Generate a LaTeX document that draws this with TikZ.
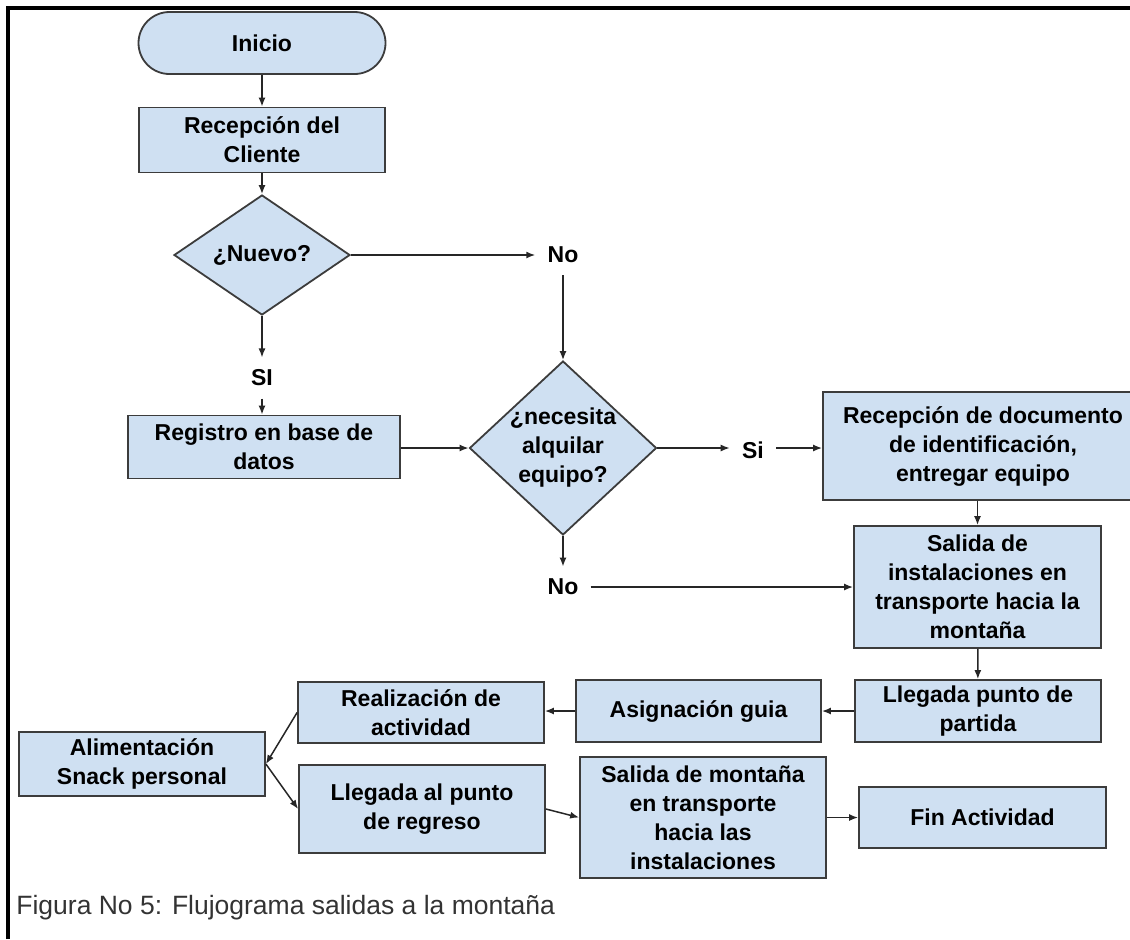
\documentclass[tikz,border=0pt]{standalone}
\usepackage{fontspec}
\setmainfont{Liberation Sans}
\usetikzlibrary{shapes.geometric,arrows.meta}
\definecolor{boxblue}{HTML}{CFE0F2}
\definecolor{boxline}{HTML}{3C3C3C}
\definecolor{captgray}{HTML}{333333}

\begin{document}
\begin{tikzpicture}[x=0.5pt,y=-0.5pt,font=\fontsize{11.5}{14.5}\selectfont\bfseries,
  box/.style={draw=boxline,line width=0.9pt,fill=boxblue,align=center,inner sep=0pt},
  decision/.style={box,shape=diamond},
  answer/.style={inner sep=6pt},
  flow/.style={-{Latex[length=4.5pt,width=3.5pt]},line width=0.75pt,black!85}]

\useasboundingbox (0,0) rectangle (1130,939);
\clip (0,0) rectangle (1130,939);

\draw[line width=1.6pt] (8,939) -- (8,8) -- (1130,8);

\node[box,rounded corners=15.5pt,minimum width=123.5pt,minimum height=31pt] (inicio) at (262,43) {Inicio};
\node[box,minimum width=123pt,minimum height=32.5pt] (recep) at (262,140) {Recepción del\\Cliente};
\node[decision,aspect=1.47,minimum width=88pt,minimum height=60pt] (nuevo) at (262,255) {¿Nuevo?};
\node[answer] (no1) at (563,255) {No};
\node[answer] (si1) at (262,378) {SI};
\node[box,minimum width=136pt,minimum height=31.5pt] (registro) at (264,447) {Registro en base de\\datos};
\node[decision,aspect=1.07,inner sep=-4pt,minimum width=93.5pt,minimum height=87pt] (necesita) at (563,448) {¿necesita\\alquilar\\equipo?};
\node[answer] (si2) at (753,450) {Si};
\node[box,minimum width=160pt,minimum height=54pt] (documento) at (983,446) {Recepción de documento\\de identificación,\\entregar equipo};
\node[box,minimum width=123.5pt,minimum height=61pt] (salida1) at (977.5,587) {Salida de\\instalaciones en\\transporte hacia la\\montaña};
\node[answer] (no2) at (563,587) {No};
\node[box,minimum width=123pt,minimum height=31pt] (llegada1) at (978,711) {Llegada punto de\\partida};
\node[box,minimum width=122.5pt,minimum height=31pt] (asigna) at (698.5,711) {Asignación guia};
\node[box,minimum width=123pt,minimum height=30.5pt] (realiza) at (421,712.5) {Realización de\\actividad};
\node[box,minimum width=123pt,minimum height=32pt] (alimenta) at (142,764) {Alimentación\\Snack personal};
\node[box,minimum width=123pt,minimum height=44pt] (llegada2) at (422,809) {Llegada al punto\\de regreso};
\node[box,minimum width=123pt,minimum height=60.5pt] (salida2) at (703,817.5) {Salida de montaña\\en transporte\\hacia las\\instalaciones};
\node[box,minimum width=123.5pt,minimum height=30.5pt] (fin) at (982.5,817.5) {Fin Actividad};
\node[anchor=west,inner sep=0pt,font=\fontsize{13.25}{15}\selectfont,text=captgray] (caption) at (16,908) {Figura No 5: Flujograma salidas a la montaña};

\draw[flow] (inicio) -- (recep);
\draw[flow] (recep) -- (nuevo);
\draw[flow] (nuevo.east) -- (no1.west);
\draw[flow] (no1.south) -- (necesita.north);
\draw[flow] (nuevo.south) -- (si1.north);
\draw[flow] (si1.south) -- (registro.north -| si1.south);
\draw[flow] (registro.east |- necesita.west) -- (necesita.west);
\draw[flow] (necesita.east) -- (necesita.east -| si2.west);
\draw[flow] (si2.east |- necesita.east) -- (documento.west |- necesita.east);
\draw[flow] (salida1.north |- documento.south) -- (salida1.north);
\draw[flow] (necesita.south) -- (no2.north);
\draw[flow] (no2.east) -- (no2.east -| salida1.west);
\draw[flow] (salida1) -- (llegada1);
\draw[flow] (llegada1) -- (asigna);
\draw[flow] (asigna.west) -- (asigna.west -| realiza.east);
\draw[flow] (realiza.west) -- (alimenta.east);
\draw[flow] (alimenta.east) -- (llegada2.west);
\draw[flow] (llegada2.east) -- (salida2.west);
\draw[flow] (salida2) -- (fin);

\end{tikzpicture}
\end{document}
